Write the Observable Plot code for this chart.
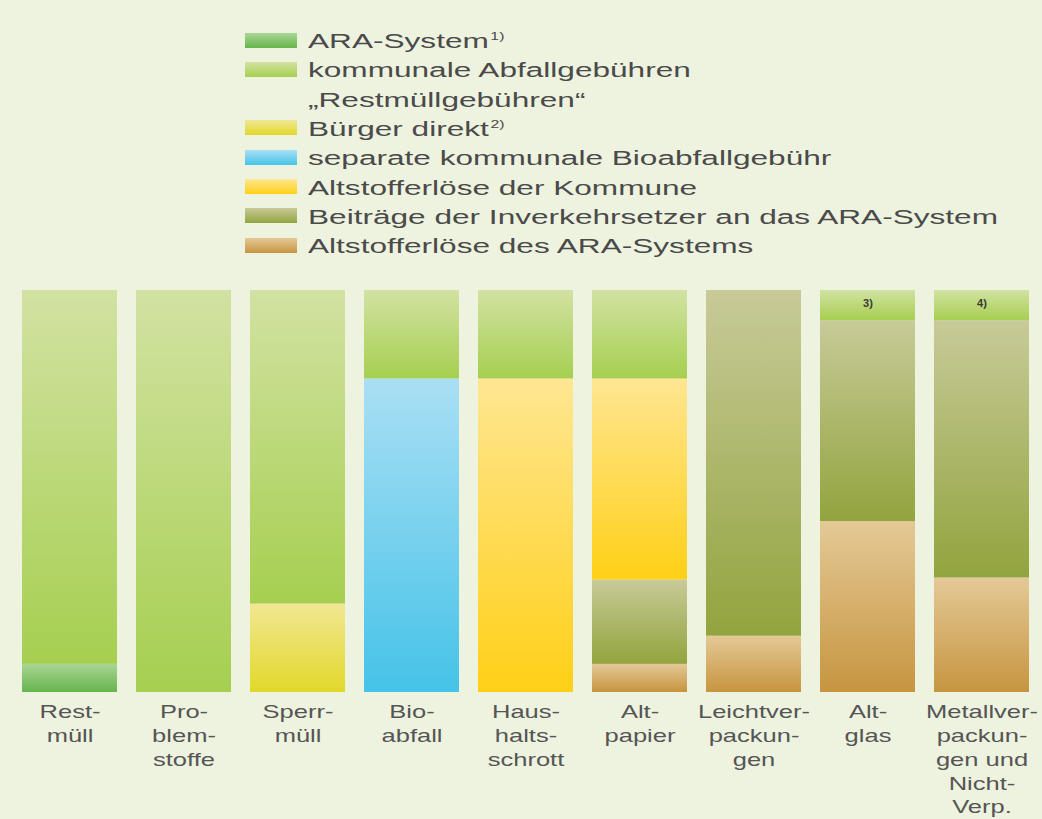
<!DOCTYPE html>
<html>
<head>
<meta charset="utf-8">
<script src="https://cdn.jsdelivr.net/npm/d3@7"></script>
<script src="https://cdn.jsdelivr.net/npm/@observablehq/plot@0.6"></script>
<style>
  html, body { margin: 0; padding: 0; background: #eef3df; }
  body { width: 1042px; height: 819px; overflow: hidden; font-family: "Liberation Sans", Arial, sans-serif; }
  #legend { position: relative; height: 270px; }
  .sw { position: absolute; left: 245px; width: 52px; height: 15px; }
  .lt { position: absolute; left: 308px; font-size: 20px; line-height: 20px; color: #4a4a4a; white-space: nowrap; transform-origin: 0 50%; }
  .lt sup { font-size: 10px; vertical-align: 0; position: relative; top: -8px; margin-left: 1px; }
  #chart svg { display: block; }
</style>
</head>
<body>
<svg width="0" height="0" style="position:absolute"><defs id="defs"></defs></svg>
<div id="legend"></div>
<div id="chart"></div>
<script>
// ---- data ----
const categories = [
  "Rest-\nmüll",
  "Pro-\nblem-\nstoffe",
  "Sperr-\nmüll",
  "Bio-\nabfall",
  "Haus-\nhalts-\nschrott",
  "Alt-\npapier",
  "Leichtver-\npackun-\ngen",
  "Alt-\nglas",
  "Metallver-\npackun-\ngen und\nNicht-\nVerp."
];

// legend order
const seriesNames = [
  "ARA-System",
  "kommunale Abfallgebühren",
  "Bürger direkt",
  "separate kommunale Bioabfallgebühr",
  "Altstofferlöse der Kommune",
  "Beiträge der Inverkehrsetzer an das ARA-System",
  "Altstofferlöse des ARA-Systems"
];
const legendLines = [
  ["ARA-System"],
  ["kommunale Abfallgebühren", "„Restmüllgebühren“"],
  ["Bürger direkt"],
  ["separate kommunale Bioabfallgebühr"],
  ["Altstofferlöse der Kommune"],
  ["Beiträge der Inverkehrsetzer an das ARA-System"],
  ["Altstofferlöse des ARA-Systems"]
];
const legendNotes = ["1)", "", "2)", "", "", "", ""];

// shares in % per category (same order as categories)
const araSystem      = [7, 0, 0, 0, 0, 0, 0, 0, 0];
const kommunal       = [93, 100, 78, 22, 22, 22, 0, 7.5, 7.5];
const buergerDirekt  = [0, 0, 22, 0, 0, 0, 0, 0, 0];
const bioGebuehr     = [0, 0, 0, 78, 0, 0, 0, 0, 0];
const altKommune     = [0, 0, 0, 0, 78, 50, 0, 0, 0];
const beitraege      = [0, 0, 0, 0, 0, 21, 86, 50, 64];
const altAra         = [0, 0, 0, 0, 0, 7, 14, 42.5, 28.5];

const barNotes = ["", "", "", "", "", "", "", "3)", "4)"];

// stacking order, bottom to top
const stackOrder = [
  "ARA-System",
  "Altstofferlöse des ARA-Systems",
  "Beiträge der Inverkehrsetzer an das ARA-System",
  "Bürger direkt",
  "separate kommunale Bioabfallgebühr",
  "Altstofferlöse der Kommune",
  "kommunale Abfallgebühren"
];

// ---- styles (gradient top / bottom per series, legend order) ----
const gradTop    = ["#a9d595", "#d2e2a2", "#f1e793", "#aadff4", "#ffe692", "#c8ca98", "#e4c996"];
const gradBottom = ["#66b54c", "#a6cf50", "#e2d82a", "#45c3e8", "#ffd017", "#92a43e", "#c79540"];

const seriesValues = {
  "ARA-System": araSystem,
  "kommunale Abfallgebühren": kommunal,
  "Bürger direkt": buergerDirekt,
  "separate kommunale Bioabfallgebühr": bioGebuehr,
  "Altstofferlöse der Kommune": altKommune,
  "Beiträge der Inverkehrsetzer an das ARA-System": beitraege,
  "Altstofferlöse des ARA-Systems": altAra
};

// gradients
const defs = document.getElementById("defs");
const NS = "http://www.w3.org/2000/svg";
seriesNames.forEach((s, i) => {
  const g = document.createElementNS(NS, "linearGradient");
  g.setAttribute("id", "grad" + i);
  g.setAttribute("x1", "0"); g.setAttribute("y1", "0");
  g.setAttribute("x2", "0"); g.setAttribute("y2", "1");
  [[0, gradTop[i]], [1, gradBottom[i]]].forEach(([o, c]) => {
    const st = document.createElementNS(NS, "stop");
    st.setAttribute("offset", o);
    st.setAttribute("stop-color", c);
    g.appendChild(st);
  });
  defs.appendChild(g);
});

// ---- legend (HTML) ----
const legend = document.getElementById("legend");
const rowStep = 29.3;
const firstBaseline = 48;
let lineIdx = 0;
const textEls = [];
let refEl = null;
seriesNames.forEach((s, i) => {
  const base = firstBaseline + lineIdx * rowStep;
  const sw = document.createElement("div");
  sw.className = "sw";
  sw.style.top = (base - 15.5) + "px";
  sw.style.background = `linear-gradient(to bottom, ${gradTop[i]}, ${gradBottom[i]})`;
  legend.appendChild(sw);
  legendLines[i].forEach((line, j) => {
    const t = document.createElement("div");
    t.className = "lt";
    t.style.top = (firstBaseline + lineIdx * rowStep - 17) + "px";
    t.textContent = line;
    if (j === 0 && legendNotes[i]) {
      const sup = document.createElement("sup");
      sup.textContent = legendNotes[i];
      t.appendChild(sup);
    }
    legend.appendChild(t);
    textEls.push(t);
    if (line.startsWith("Beiträge")) refEl = t;
    lineIdx++;
  });
});
const legendScale = 690 / refEl.getBoundingClientRect().width;
textEls.forEach(t => t.style.transform = `scaleX(${legendScale})`);

// ---- chart ----
const data = [];
stackOrder.forEach(s => {
  seriesValues[s].forEach((v, i) => {
    if (v > 0) data.push({cat: categories[i], series: s, value: v});
  });
});
const noteData = categories.map((c, i) => ({cat: c, note: barNotes[i]})).filter(d => d.note);

const chart = Plot.plot({
  width: 1042,
  height: 549,
  marginTop: 20,
  marginBottom: 127,
  marginLeft: 18,
  marginRight: 10,
  style: {background: "transparent", fontFamily: "Liberation Sans, Arial, sans-serif", fontSize: "19px", color: "#555"},
  x: {domain: categories, paddingInner: 0.17, paddingOuter: 0, label: null},
  y: {domain: [0, 100], axis: null},
  color: {type: "ordinal", domain: seriesNames, range: seriesNames.map((_, i) => `url(#grad${i})`)},
  marks: [
    Plot.barY(data, {x: "cat", y: "value", fill: "series", order: stackOrder}),
    Plot.text(noteData, {x: "cat", y: 100, text: "note", dy: 13, fontSize: 11, fill: "#3a3a3a", fontWeight: "bold"}),
    Plot.axisX({tickSize: 0, tickPadding: 9, fontSize: 19, lineHeight: 1.25, color: "#555", label: null})
  ]
});
document.getElementById("chart").appendChild(chart);

// horizontally stretch tick labels like the reference
const tickTexts = chart.querySelectorAll('[aria-label="x-axis tick label"] text');
let refLen = null;
tickTexts.forEach(t => t.querySelectorAll("tspan").forEach(ts => {
  if (ts.textContent === "Leichtver-") refLen = ts.getComputedTextLength();
}));
const xf = refLen ? 112 / refLen : 1.3;
tickTexts.forEach(t => {
  const spans = t.querySelectorAll("tspan");
  const els = spans.length ? spans : [t];
  els.forEach(el => {
    const len = el.getComputedTextLength();
    el.setAttribute("textLength", len * xf);
    el.setAttribute("lengthAdjust", "spacingAndGlyphs");
  });
});
</script>
</body>
</html>
